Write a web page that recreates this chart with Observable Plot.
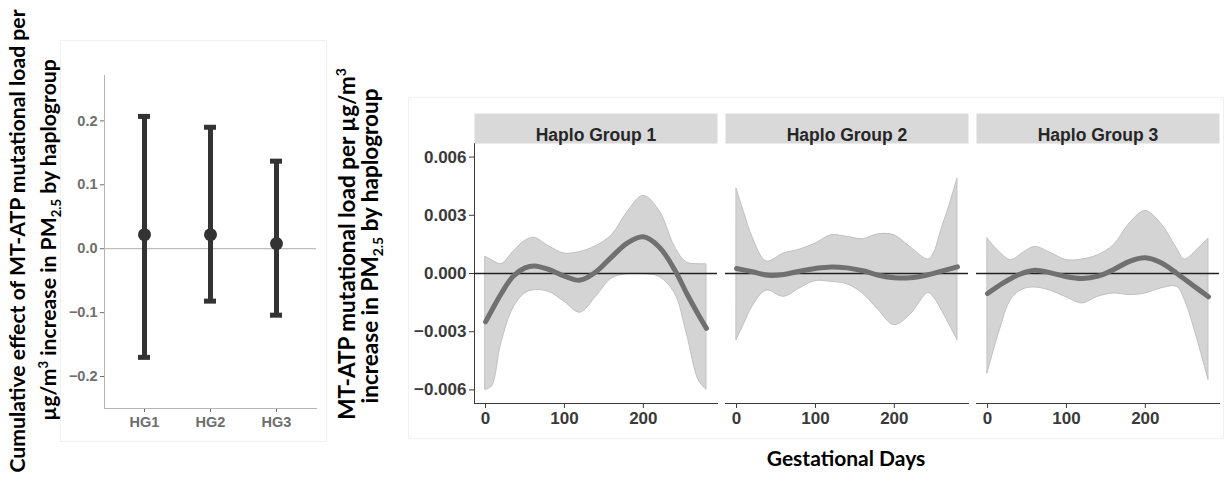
<!DOCTYPE html>
<html><head><meta charset="utf-8">
<script src="https://cdn.jsdelivr.net/npm/d3@7"></script>
<script src="https://cdn.jsdelivr.net/npm/@observablehq/plot@0.6"></script>
<style>
body{margin:0;background:#fff;}
#root{position:relative;width:1225px;height:477px;overflow:hidden;background:#fff;}
.ttl{position:absolute;font-family:Lato,"Open Sans",sans-serif;font-weight:700;color:#000;white-space:nowrap;transform:translate(-50%,-50%) rotate(-90deg);line-height:1;}
.ttl sub,.ttl sup{font-size:62%;}
.box{position:absolute;border:1px solid #f1f1f1;}
</style></head>
<body><div id="root"></div>
<script>
// ---- Left panel data: cumulative effect by haplogroup ----
const groups = ["HG1", "HG2", "HG3"];
const estimate = [0.022, 0.022, 0.008];
const lowerCI = [-0.170, -0.082, -0.104];
const upperCI = [0.207, 0.190, 0.137];
const leftTicks = [-0.2, -0.1, 0.0, 0.1, 0.2];

// ---- Right panel data: distributed lag curves ----
const facetNames = ["Haplo Group 1", "Haplo Group 2", "Haplo Group 3"];
const dayTicks = [0, 100, 200];
const rightTicks = [-0.006, -0.003, 0.000, 0.003, 0.006];

const hg1Days = [0, 8, 20, 35, 50, 62, 80, 100, 120, 140, 160, 180, 200, 220, 240, 255, 270, 280];
const hg1Upper = [0.00086, 0.00069, 0.00048, 0.00111, 0.00168, 0.00184, 0.00141, 0.00103, 0.00111, 0.00141, 0.00197, 0.00317, 0.00400, 0.00326, 0.00137, 0.00057, 0.00048, 0.00048];
const hg1Lower = [-0.00600, -0.00583, -0.00360, -0.00180, -0.00103, -0.00086, -0.00094, -0.00146, -0.00202, -0.00120, -0.00026, -0.00003, -0.00003, -0.00017, -0.00103, -0.00309, -0.00549, -0.00600];
const hg1Center = [-0.00249, -0.00189, -0.00103, -0.00014, 0.00029, 0.00039, 0.00021, -0.00014, -0.00034, 0.00009, 0.00086, 0.00158, 0.00189, 0.00137, 0.00017, -0.00103, -0.00214, -0.00283];

const hg2BandDays = [0, 10, 20, 38, 60, 80, 100, 120, 140, 160, 180, 200, 220, 243, 250, 260, 270, 280];
const hg2Upper = [0.00437, 0.00309, 0.00189, 0.00062, 0.00103, 0.00123, 0.00154, 0.00197, 0.00189, 0.00177, 0.00202, 0.00197, 0.00137, 0.00072, 0.00103, 0.00230, 0.00352, 0.00489];
const hg2Lower = [-0.00343, -0.00257, -0.00172, -0.00088, -0.00120, -0.00077, -0.00039, -0.00043, -0.00055, -0.00103, -0.00189, -0.00266, -0.00214, -0.00100, -0.00123, -0.00189, -0.00266, -0.00343];
const hg2LineDays = [0, 20, 40, 60, 80, 100, 120, 140, 160, 180, 200, 220, 240, 260, 280];
const hg2Center = [0.00026, 0.00009, -0.00009, -0.00005, 0.00012, 0.00026, 0.00034, 0.00029, 0.00014, -0.00009, -0.00022, -0.00022, -0.00009, 0.00012, 0.00034];

const hg3BandDays = [0, 15, 30, 45, 60, 80, 100, 120, 140, 160, 180, 200, 220, 240, 250, 265, 280];
const hg3Upper = [0.00180, 0.00111, 0.00069, 0.00106, 0.00137, 0.00106, 0.00069, 0.00072, 0.00094, 0.00146, 0.00257, 0.00322, 0.00257, 0.00129, 0.00072, 0.00120, 0.00180];
const hg3Lower = [-0.00515, -0.00300, -0.00134, -0.00082, -0.00072, -0.00089, -0.00123, -0.00154, -0.00120, -0.00103, -0.00111, -0.00103, -0.00077, -0.00069, -0.00137, -0.00326, -0.00549];
const hg3LineDays = [0, 20, 40, 60, 80, 100, 120, 140, 160, 180, 200, 220, 240, 260, 280];
const hg3Center = [-0.00103, -0.00048, -0.00005, 0.00017, 0.00003, -0.00017, -0.00026, -0.00014, 0.00021, 0.00063, 0.00081, 0.00055, 0.00000, -0.00060, -0.00120];

// ---- build tables ----
const summary = groups.map((g, i) => ({g, est: estimate[i], lo: lowerCI[i], hi: upperCI[i]}));
const bandSpecs = [[hg1Days, hg1Lower, hg1Upper], [hg2BandDays, hg2Lower, hg2Upper], [hg3BandDays, hg3Lower, hg3Upper]];
const lineSpecs = [[hg1Days, hg1Center], [hg2LineDays, hg2Center], [hg3LineDays, hg3Center]];
const bands = bandSpecs.flatMap(([days, lo, hi], k) => days.map((d, i) => ({g: facetNames[k], day: d, lo: lo[i], hi: hi[i]})));
const lines = lineSpecs.flatMap(([days, v], k) => days.map((d, i) => ({g: facetNames[k], day: d, v: v[i]})));

const root = document.getElementById("root");

function addBox(l, t, w, h) {
  const b = document.createElement("div");
  b.className = "box";
  Object.assign(b.style, {left: l + "px", top: t + "px", width: w + "px", height: h + "px"});
  root.appendChild(b);
}
addBox(60, 40, 265, 400);
addBox(408, 97, 814, 340);

// ---- Left plot ----
const left = Plot.plot({
  width: 330, height: 477,
  marginLeft: 104, marginRight: 14, marginTop: 75, marginBottom: 69,
  style: {fontFamily: "'Liberation Sans', Arial, sans-serif", fontSize: "14.5px", fontWeight: "bold", color: "#6e6e6e", background: "transparent"},
  x: {type: "band", domain: groups, paddingInner: 0.82, paddingOuter: 0.51, label: null, tickSize: 4, tickPadding: 4},
  y: {domain: [-0.25, 0.271], ticks: leftTicks, tickFormat: d3.format(".1f"), label: null, tickSize: 4, tickPadding: 3},
  marks: [
    Plot.frame({anchor: "left", stroke: "#b5b5b5"}),
    Plot.frame({anchor: "bottom", stroke: "#b5b5b5"}),
    Plot.ruleY([0], {stroke: "#bdbdbd", strokeWidth: 1.3}),
    Plot.ruleX(summary, {x: "g", y1: "lo", y2: "hi", stroke: "#333", strokeWidth: 5}),
    Plot.tickY(summary, {x: "g", y: "lo", stroke: "#333", strokeWidth: 5}),
    Plot.tickY(summary, {x: "g", y: "hi", stroke: "#333", strokeWidth: 5}),
    Plot.dot(summary, {x: "g", y: "est", r: 6.5, fill: "#333"})
  ]
});
left.style.position = "absolute";
left.style.left = "0px";
left.style.top = "0px";
root.appendChild(left);

// ---- Right faceted plot ----
const right = Plot.plot({
  width: 895, height: 477,
  marginLeft: 143, marginRight: 5, marginTop: 143, marginBottom: 74,
  style: {fontFamily: "'Liberation Sans', Arial, sans-serif", fontSize: "17px", fontWeight: "bold", color: "#3a3a3a", background: "transparent"},
  fx: {domain: facetNames, paddingInner: 0.03, paddingOuter: 0, axis: null},
  x: {domain: [-14, 294], ticks: dayTicks, label: null, tickSize: 5, tickPadding: 3, line: true},
  y: {domain: [-0.0067, 0.0067], ticks: rightTicks, tickFormat: d3.format(".3f"), label: null, tickSize: 5, tickPadding: 3, line: true},
  marks: [
    Plot.frame({fill: "#d9d9d9", insetTop: -30, insetBottom: 260}),
    Plot.text(facetNames, {fx: d => d, text: d => d, frameAnchor: "top", dy: -15, fill: "#262626", fontSize: 17.5}),
    Plot.areaY(bands, {fx: "g", x: "day", y1: "lo", y2: "hi", fill: "#d4d4d4", stroke: "#c0c0c0", strokeWidth: 1, curve: "catmull-rom"}),
    Plot.ruleY([0], {stroke: "#222", strokeWidth: 1.5}),
    Plot.line(lines, {fx: "g", x: "day", y: "v", stroke: "#707070", strokeWidth: 5, curve: "catmull-rom"})
  ]
});
right.style.position = "absolute";
right.style.left = "330px";
right.style.top = "0px";
root.appendChild(right);

// ---- Titles ----
function addTitle(html, cx, cy, size, rotate) {
  const t = document.createElement("div");
  t.className = "ttl";
  t.innerHTML = html;
  t.style.left = cx + "px";
  t.style.top = cy + "px";
  t.style.fontSize = size + "px";
  if (!rotate) t.style.transform = "translate(-50%,-50%)";
  root.appendChild(t);
}
addTitle("Cumulative effect of MT-ATP mutational load per", 18, 241, 21.2, true);
addTitle("µg/m<sup>3</sup> increase in PM<sub>2.5</sub> by haplogroup", 50, 240, 21.2, true);
addTitle("MT-ATP mutational load per µg/m<sup>3</sup>", 346, 244, 22.5, true);
addTitle("increase in PM<sub>2.5</sub> by haplogroup", 372, 246, 22.5, true);
addTitle("Gestational Days", 846, 457, 21, false);
</script>
</body></html>
